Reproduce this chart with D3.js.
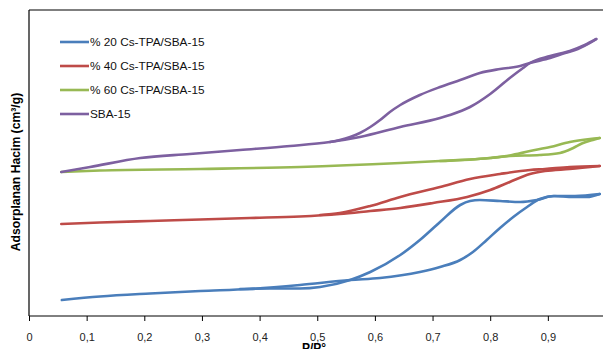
<!DOCTYPE html>
<html>
<head>
<meta charset="utf-8">
<script src="https://cdn.jsdelivr.net/npm/d3@7"></script>
<style>
  body { margin: 0; background: #fff; }
  svg { display: block; }
  .axis text { font-family: "Liberation Sans", Arial, sans-serif; font-size: 11px; fill: #222; }
  .axis path, .axis line { stroke: #000; }
</style>
</head>
<body>
<section></section>
<script>
// series names (legend order)
var seriesNames = ["% 20 Cs-TPA/SBA-15", "% 40 Cs-TPA/SBA-15", "% 60 Cs-TPA/SBA-15", "SBA-15"];
var seriesColors = ["#4A7EBB", "#BE4B48", "#98B954", "#7D60A0"];

// x tick values and their labels (the 1 tick falls just outside the picture)
var xTicks = [0, 0.1, 0.2, 0.3, 0.4, 0.5, 0.6, 0.7, 0.8, 0.9];
var xTickLabels = ["0", "0,1", "0,2", "0,3", "0,4", "0,5", "0,6", "0,7", "0,8", "0,9"];

// [P/P°, adsorbed volume] - adsorption branch (rising P) and desorption branch (falling P)
var ads20 = [[0.057,16],[0.123,19.5],[0.210,22.5],[0.297,25],[0.383,27],[0.470,31],[0.557,36],[0.609,38],[0.678,44],[0.713,49],[0.748,56],[0.770,64],[0.794,76],[0.817,88],[0.840,99],[0.864,109],[0.886,117],[0.912,120],[0.947,120],[0.990,122]];
var des20 = [[0.990,122],[0.968,119],[0.944,119],[0.909,120],[0.881,116],[0.852,114],[0.817,115],[0.782,116],[0.765,115],[0.748,111],[0.713,94],[0.678,76],[0.644,61],[0.592,44],[0.557,36],[0.505,29],[0.470,27.5],[0.418,27.5],[0.366,27]];

var ads40 = [[0.056,92],[0.123,93.5],[0.210,95],[0.297,96.5],[0.383,98],[0.470,99.5],[0.539,102],[0.592,105],[0.644,108],[0.701,113],[0.760,119],[0.800,126],[0.834,134],[0.869,142],[0.895,145],[0.938,147],[0.990,150]];
var des40 = [[0.990,150],[0.938,149],[0.895,147],[0.869,146],[0.817,142],[0.765,137],[0.713,129],[0.644,119],[0.592,110],[0.539,103],[0.505,101]];

var ads60 = [[0.056,144],[0.123,145.5],[0.297,147],[0.470,149],[0.644,153],[0.713,155],[0.800,158],[0.834,160],[0.886,161],[0.921,163],[0.944,168],[0.961,173],[0.978,176],[0.990,178]];
var des60 = [[0.990,178],[0.973,177],[0.938,174],[0.904,169],[0.869,165],[0.834,160.5],[0.800,158],[0.713,155]];

var adsSBA = [[0.056,144],[0.106,149],[0.193,158],[0.279,162],[0.366,166],[0.453,170],[0.522,174],[0.574,179],[0.644,189],[0.713,198],[0.730,201],[0.765,209],[0.800,222],[0.834,238],[0.857,248],[0.869,253],[0.904,260],[0.938,265],[0.964,271],[0.984,277]];
var desSBA = [[0.984,277],[0.973,273],[0.952,267],[0.930,263],[0.904,258],[0.869,253],[0.852,250],[0.817,247],[0.782,243],[0.748,236],[0.713,229],[0.678,221],[0.644,211],[0.626,204],[0.609,196],[0.592,189],[0.574,183],[0.557,179],[0.539,176],[0.522,174]];

var branches = [[ads20, des20], [ads40, des40], [ads60, des60], [adsSBA, desSBA]];

var width = 603;
var height = 349;

var xScale = d3.scaleLinear()
    .domain([0, 1])
    .range([29, 605.5]);

var yScale = d3.scaleLinear()
    .domain([0, 306])
    .range([316, 10]);

var svg = d3.select("section")
    .append("svg")
    .attr("width", width)
    .attr("height", height);

// plot area border (left and top; right side is cut off)
svg.append("line")
    .attr("x1", xScale(0)).attr("x2", xScale(0))
    .attr("y1", yScale(306)).attr("y2", yScale(0))
    .attr("stroke", "#000").attr("stroke-width", 1.2);

svg.append("line")
    .attr("x1", xScale(0)).attr("x2", width)
    .attr("y1", yScale(306)).attr("y2", yScale(306))
    .attr("stroke", "#000").attr("stroke-width", 1.2);

// x axis
var xAxis = d3.axisBottom(xScale)
    .tickValues(xTicks)
    .tickSize(5)
    .tickSizeOuter(0)
    .tickPadding(12)
    .tickFormat(function(d, i) { return xTickLabels[i]; });

var xg = svg.append("g")
    .attr("class", "axis")
    .attr("transform", "translate(0," + yScale(0) + ")")
    .call(xAxis);

// domain line runs to the picture edge
xg.select(".domain").attr("d", "M" + xScale(0) + ",0H" + width);

// isotherm curves, each branch drawn on its own
var line = d3.line()
    .x(function(d) { return xScale(d[0]); })
    .y(function(d) { return yScale(d[1]); })
    .curve(d3.curveMonotoneX);

var groups = svg.selectAll("g.iso")
    .data(branches)
    .enter()
    .append("g")
    .attr("class", "iso");

groups.selectAll("path")
    .data(function(d, i) { return [{pts: d[0], c: i}, {pts: d[1].slice().reverse(), c: i}]; })
    .enter()
    .append("path")
    .attr("d", function(d) { return line(d.pts); })
    .attr("fill", "none")
    .attr("stroke", function(d) { return seriesColors[d.c]; })
    .attr("stroke-width", 2.6)
    .attr("stroke-linejoin", "round")
    .attr("stroke-linecap", "round");

// legend
var legend = svg.selectAll("g.legend")
    .data(seriesNames)
    .enter()
    .append("g")
    .attr("class", "legend")
    .attr("transform", function(d, i) { return "translate(60," + (42 + i * 24) + ")"; });

legend.append("line")
    .attr("x1", 0).attr("x2", 29)
    .attr("stroke", function(d, i) { return seriesColors[i]; })
    .attr("stroke-width", 2.6);

legend.append("text")
    .attr("x", 30)
    .attr("dy", "0.35em")
    .style("font-family", "'Liberation Sans', Arial, sans-serif")
    .style("font-size", "11.8px")
    .attr("fill", "#111")
    .text(function(d) { return d; });

// axis titles
svg.append("text")
    .attr("transform", "translate(20," + 172 + ") rotate(-90)")
    .style("text-anchor", "middle")
    .style("font-family", "'Liberation Sans', Arial, sans-serif")
    .style("font-size", "12.2px")
    .style("font-weight", "bold")
    .text("Adsorplanan Hacim (cm³/g)");

svg.append("text")
    .attr("x", 314)
    .attr("y", 352)
    .style("text-anchor", "middle")
    .style("font-family", "'Liberation Sans', Arial, sans-serif")
    .style("font-size", "12px")
    .style("font-weight", "bold")
    .text("P/P°");
</script>
</body>
</html>
